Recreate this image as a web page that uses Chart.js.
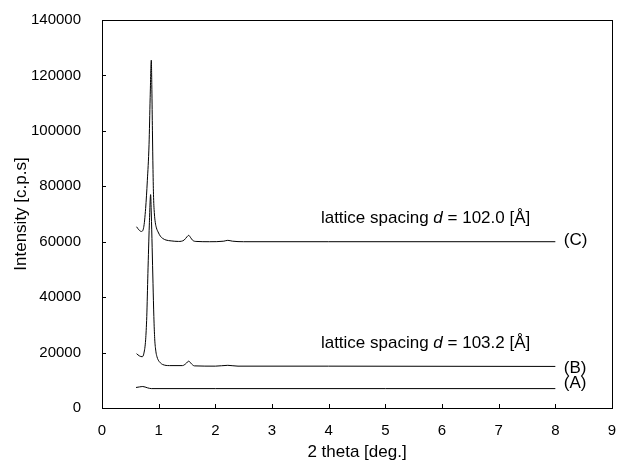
<!DOCTYPE html>
<html>
<head>
<meta charset="utf-8">
<script src="https://cdn.jsdelivr.net/npm/chart.js@4.4.1/dist/chart.umd.min.js"></script>
<style>
  html, body { margin: 0; padding: 0; background: #fff; }
  #wrap { width: 621px; height: 464px; }
</style>
</head>
<body>
<div id="wrap"><canvas id="xrd"></canvas></div>
<script>
'use strict';

/* ---- data ---- */
const thetaA = [0.60, 0.66, 0.72, 0.80, 0.87, 2.0, 5.0, 8.0];
const intensityA = [7400, 7600, 7750, 7300, 7000, 7000, 7000, 7000];

const thetaB = [0.61, 0.66, 0.71, 0.74, 0.77, 0.79, 0.81, 0.835, 0.858, 0.87, 0.885, 0.90, 0.915, 0.93, 0.95, 0.97, 0.99, 1.03, 1.07, 1.19, 1.42, 1.48, 1.53, 1.58, 1.63, 2.0, 2.22, 2.4, 4.0, 8.0];
const intensityB = [19600, 18800, 18500, 19800, 24600, 33000, 48500, 66000, 77000, 70000, 58000, 45000, 33000, 25000, 20500, 18500, 17400, 16300, 15700, 15300, 15300, 16000, 16900, 15900, 15200, 15100, 15400, 15100, 15100, 15000];

const thetaC = [0.61, 0.65, 0.695, 0.735, 0.77, 0.80, 0.83, 0.85, 0.87, 0.88, 0.89, 0.90, 0.91, 0.925, 0.94, 0.96, 0.99, 1.03, 1.07, 1.13, 1.22, 1.35, 1.45, 1.50, 1.53, 1.56, 1.60, 1.66, 1.90, 2.15, 2.22, 2.30, 2.50, 4.0, 6.0, 8.0];
const intensityC = [65400, 64300, 63700, 65100, 72000, 82000, 95000, 112000, 125500, 115000, 100000, 86000, 76000, 70000, 67000, 65000, 63500, 62000, 61200, 60600, 60300, 60100, 60600, 61800, 62300, 61600, 60500, 60100, 60000, 60200, 60500, 60200, 60000, 60000, 60000, 60000];

const xTicks = [0, 1, 2, 3, 4, 5, 6, 7, 8, 9];
const yTicks = [0, 20000, 40000, 60000, 80000, 100000, 120000, 140000];

const curveLabels = ['(A)', '(B)', '(C)'];
const curveLabelY = [9000, 14300, 60600];
const spacingLabels = [['lattice spacing ', 'd', ' = 102.0 [Å]'], ['lattice spacing ', 'd', ' = 103.2 [Å]']];
const spacingLabelY = [68600, 23300];

const FONT = '"Liberation Sans", Arial, sans-serif';

function toPoints(xs, ys) {
    return xs.map((x, i) => ({ x: x, y: ys[i] }));
}

/* frame, inward ticks and text notes */
const decorations = {
    id: 'decorations',
    afterDraw(chart) {
        const { ctx, chartArea: a, scales: { x, y } } = chart;
        ctx.save();
        ctx.strokeStyle = '#000';
        ctx.lineWidth = 1;
        ctx.strokeRect(Math.round(a.left) + 0.5, Math.round(a.top) + 0.5,
            Math.round(a.right - a.left), Math.round(a.bottom - a.top));
        ctx.beginPath();
        xTicks.forEach(v => {
            const px = Math.round(x.getPixelForValue(v)) + 0.5;
            ctx.moveTo(px, a.bottom);
            ctx.lineTo(px, a.bottom - 4);
        });
        yTicks.forEach(v => {
            const py = Math.round(y.getPixelForValue(v)) + 0.5;
            ctx.moveTo(a.left, py);
            ctx.lineTo(a.left + 4, py);
        });
        ctx.stroke();

        ctx.fillStyle = '#000';
        ctx.textBaseline = 'middle';
        ctx.font = '17px ' + FONT;
        curveLabels.forEach((t, i) => {
            ctx.textAlign = 'left';
            ctx.fillText(t, x.getPixelForValue(8.15), y.getPixelForValue(curveLabelY[i]));
        });

        spacingLabels.forEach((parts, i) => {
            const fonts = ['17px ' + FONT, 'italic 17px ' + FONT, '17px ' + FONT];
            let total = 0;
            parts.forEach((p, k) => { ctx.font = fonts[k]; total += ctx.measureText(p).width; });
            let px = x.getPixelForValue(5.71) - total / 2;
            const py = y.getPixelForValue(spacingLabelY[i]);
            ctx.textAlign = 'left';
            parts.forEach((p, k) => {
                ctx.font = fonts[k];
                ctx.fillText(p, px, py);
                px += ctx.measureText(p).width;
            });
        });
        ctx.restore();
    }
};

const lineStyle = {
    borderColor: '#000',
    borderWidth: 1,
    pointRadius: 0,
    fill: false,
    cubicInterpolationMode: 'monotone',
};

new Chart(document.getElementById('xrd'), {
    type: 'line',
    data: {
        datasets: [
            { label: 'A', data: toPoints(thetaA, intensityA), ...lineStyle },
            { label: 'B', data: toPoints(thetaB, intensityB), ...lineStyle },
            { label: 'C', data: toPoints(thetaC, intensityC), ...lineStyle },
        ],
    },
    options: {
        responsive: true,
        maintainAspectRatio: false,
        animation: false,
        layout: { padding: { top: 20, right: 9, left: 0, bottom: 0 } },
        plugins: { legend: { display: false }, tooltip: { enabled: false } },
        scales: {
            x: {
                type: 'linear',
                min: 0, max: 9,
                afterBuildTicks: s => { s.ticks = xTicks.map(v => ({ value: v })); },
                afterFit: s => { s.height = 56; s.paddingLeft = 0; s.paddingRight = 0; },
                grid: { display: false },
                border: { display: false },
                ticks: { color: '#000', padding: 6, maxRotation: 0, font: { size: 15, family: FONT } },
                title: { display: true, text: '2 theta [deg.]', color: '#000', font: { size: 17, family: FONT }, padding: { top: 0, bottom: 1 } },
            },
            y: {
                min: 0, max: 140000,
                afterBuildTicks: s => { s.ticks = yTicks.map(v => ({ value: v })); },
                afterFit: s => { s.width = 102; s.paddingTop = 0; s.paddingBottom = 0; },
                grid: { display: false },
                border: { display: false },
                ticks: { color: '#000', padding: 13, font: { size: 15, family: FONT }, callback: v => String(v) },
                title: { display: true, text: 'Intensity [c.p.s]', color: '#000', font: { size: 17, family: FONT }, padding: { top: 11, bottom: 0 } },
            },
        },
    },
    plugins: [decorations],
});
</script>
</body>
</html>
